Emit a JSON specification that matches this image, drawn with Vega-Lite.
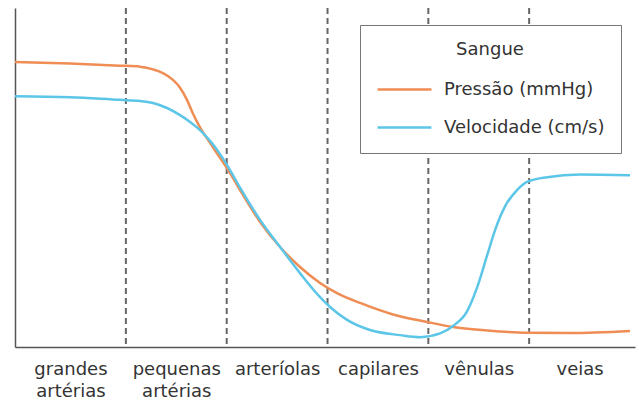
{
  "$schema": "https://vega.github.io/schema/vega-lite/v6.json",
  "width": 620,
  "height": 339,
  "autosize": {"type": "none"},
  "padding": {"left": 15, "top": 8, "right": 4, "bottom": 55},
  "background": "white",
  "config": {"view": {"stroke": null}, "font": "DejaVu Sans"},
  "layer": [
    {
      "data": {"values": [{"b": 1}, {"b": 2}, {"b": 3}, {"b": 4}, {"b": 5}]},
      "mark": {"type": "rule", "color": "#666666", "strokeWidth": 2, "strokeDash": [6, 4]},
      "encoding": {
        "x": {
          "field": "b", "type": "quantitative",
          "scale": {"domain": [-0.1, 6.05], "nice": false, "zero": false},
          "axis": {
            "title": null, "grid": false, "ticks": false,
            "values": [0.45, 1.5, 2.5, 3.5, 4.5, 5.5],
            "labelExpr": "datum.value < 1 ? ['grandes', 'artérias'] : datum.value < 2 ? ['pequenas', 'artérias'] : datum.value < 3 ? 'arteríolas' : datum.value < 4 ? 'capilares' : datum.value < 5 ? 'vênulas' : 'veias'",
            "labelFontSize": 18, "labelColor": "#333333", "labelPadding": 13, "labelLineHeight": 22,
            "labelFont": "DejaVu Sans", "labelFlush": false, "labelOverlap": false, "labelBaseline": "top",
            "domainColor": "#555555", "domainWidth": 1.5
          }
        }
      }
    },
    {
      "data": {"values": [
        {"serie": "Pressão (mmHg)", "x": -0.1, "y": 84.1},
        {"serie": "Pressão (mmHg)", "x": 0.446, "y": 83.6},
        {"serie": "Pressão (mmHg)", "x": 0.942, "y": 83.0},
        {"serie": "Pressão (mmHg)", "x": 1.14, "y": 82.7},
        {"serie": "Pressão (mmHg)", "x": 1.269, "y": 81.9},
        {"serie": "Pressão (mmHg)", "x": 1.368, "y": 80.8},
        {"serie": "Pressão (mmHg)", "x": 1.467, "y": 78.8},
        {"serie": "Pressão (mmHg)", "x": 1.537, "y": 76.5},
        {"serie": "Pressão (mmHg)", "x": 1.606, "y": 72.9},
        {"serie": "Pressão (mmHg)", "x": 1.666, "y": 68.8},
        {"serie": "Pressão (mmHg)", "x": 1.735, "y": 64.8},
        {"serie": "Pressão (mmHg)", "x": 1.835, "y": 60.2},
        {"serie": "Pressão (mmHg)", "x": 1.934, "y": 55.8},
        {"serie": "Pressão (mmHg)", "x": 2.033, "y": 51.3},
        {"serie": "Pressão (mmHg)", "x": 2.132, "y": 46.3},
        {"serie": "Pressão (mmHg)", "x": 2.331, "y": 36.9},
        {"serie": "Pressão (mmHg)", "x": 2.529, "y": 29.5},
        {"serie": "Pressão (mmHg)", "x": 2.727, "y": 23.6},
        {"serie": "Pressão (mmHg)", "x": 2.926, "y": 18.9},
        {"serie": "Pressão (mmHg)", "x": 3.094, "y": 15.9},
        {"serie": "Pressão (mmHg)", "x": 3.323, "y": 13.0},
        {"serie": "Pressão (mmHg)", "x": 3.65, "y": 9.6},
        {"serie": "Pressão (mmHg)", "x": 3.987, "y": 7.4},
        {"serie": "Pressão (mmHg)", "x": 4.245, "y": 5.9},
        {"serie": "Pressão (mmHg)", "x": 4.583, "y": 4.9},
        {"serie": "Pressão (mmHg)", "x": 4.979, "y": 4.2},
        {"serie": "Pressão (mmHg)", "x": 5.406, "y": 4.1},
        {"serie": "Pressão (mmHg)", "x": 6.001, "y": 4.7},
        {"serie": "Velocidade (cm/s)", "x": -0.1, "y": 74.0},
        {"serie": "Velocidade (cm/s)", "x": 0.446, "y": 73.7},
        {"serie": "Velocidade (cm/s)", "x": 0.942, "y": 72.9},
        {"serie": "Velocidade (cm/s)", "x": 1.14, "y": 72.6},
        {"serie": "Velocidade (cm/s)", "x": 1.269, "y": 72.0},
        {"serie": "Velocidade (cm/s)", "x": 1.408, "y": 70.5},
        {"serie": "Velocidade (cm/s)", "x": 1.537, "y": 68.4},
        {"serie": "Velocidade (cm/s)", "x": 1.636, "y": 66.4},
        {"serie": "Velocidade (cm/s)", "x": 1.735, "y": 64.0},
        {"serie": "Velocidade (cm/s)", "x": 1.835, "y": 60.8},
        {"serie": "Velocidade (cm/s)", "x": 1.934, "y": 56.9},
        {"serie": "Velocidade (cm/s)", "x": 2.033, "y": 52.2},
        {"serie": "Velocidade (cm/s)", "x": 2.132, "y": 47.0},
        {"serie": "Velocidade (cm/s)", "x": 2.331, "y": 37.5},
        {"serie": "Velocidade (cm/s)", "x": 2.529, "y": 29.5},
        {"serie": "Velocidade (cm/s)", "x": 2.727, "y": 21.8},
        {"serie": "Velocidade (cm/s)", "x": 2.926, "y": 14.7},
        {"serie": "Velocidade (cm/s)", "x": 3.025, "y": 11.8},
        {"serie": "Velocidade (cm/s)", "x": 3.194, "y": 8.0},
        {"serie": "Velocidade (cm/s)", "x": 3.422, "y": 5.0},
        {"serie": "Velocidade (cm/s)", "x": 3.72, "y": 3.5},
        {"serie": "Velocidade (cm/s)", "x": 3.918, "y": 2.9},
        {"serie": "Velocidade (cm/s)", "x": 4.116, "y": 4.0},
        {"serie": "Velocidade (cm/s)", "x": 4.245, "y": 6.2},
        {"serie": "Velocidade (cm/s)", "x": 4.384, "y": 10.5},
        {"serie": "Velocidade (cm/s)", "x": 4.483, "y": 17.5},
        {"serie": "Velocidade (cm/s)", "x": 4.583, "y": 27.0},
        {"serie": "Velocidade (cm/s)", "x": 4.662, "y": 34.5},
        {"serie": "Velocidade (cm/s)", "x": 4.761, "y": 41.5},
        {"serie": "Velocidade (cm/s)", "x": 4.88, "y": 46.3},
        {"serie": "Velocidade (cm/s)", "x": 4.979, "y": 48.7},
        {"serie": "Velocidade (cm/s)", "x": 5.178, "y": 50.1},
        {"serie": "Velocidade (cm/s)", "x": 5.505, "y": 50.9},
        {"serie": "Velocidade (cm/s)", "x": 6.001, "y": 50.7}
      ]},
      "mark": {"type": "line", "interpolate": "monotone", "strokeWidth": 2.5},
      "encoding": {
        "x": {
          "field": "x", "type": "quantitative",
          "scale": {"domain": [-0.1, 6.05], "nice": false, "zero": false},
          "axis": {
            "title": null, "grid": false, "ticks": false,
            "values": [0.45, 1.5, 2.5, 3.5, 4.5, 5.5],
            "labelExpr": "datum.value < 1 ? ['grandes', 'artérias'] : datum.value < 2 ? ['pequenas', 'artérias'] : datum.value < 3 ? 'arteríolas' : datum.value < 4 ? 'capilares' : datum.value < 5 ? 'vênulas' : 'veias'",
            "labelFontSize": 18, "labelColor": "#333333", "labelPadding": 13, "labelLineHeight": 22,
            "labelFont": "DejaVu Sans", "labelFlush": false, "labelOverlap": false, "labelBaseline": "top",
            "domainColor": "#555555", "domainWidth": 1.5
          }
        },
        "y": {
          "field": "y", "type": "quantitative",
          "scale": {"domain": [0, 100], "nice": false},
          "axis": {"title": null, "grid": false, "ticks": false, "labels": false, "domainColor": "#555555", "domainWidth": 1.5}
        },
        "color": {
          "field": "serie", "type": "nominal",
          "scale": {"domain": ["Pressão (mmHg)", "Velocidade (cm/s)"], "range": ["#EF8D55", "#5CC6E8"]},
          "legend": {
            "title": "Sangue", "orient": "none", "legendX": 345, "legendY": 17,
            "fillColor": "white", "strokeColor": "#777777", "padding": 16,
            "titleAnchor": "middle", "titleFontSize": 18, "titleFontWeight": "normal", "titleColor": "#333333", "titleFont": "DejaVu Sans", "titlePadding": 2,
            "labelFontSize": 18, "labelColor": "#333333", "labelFont": "DejaVu Sans", "labelOffset": 11, "labelLimit": 400,
            "symbolType": "stroke", "symbolSize": 2900, "symbolStrokeWidth": 2.5, "rowPadding": 0
          }
        }
      }
    }
  ]
}
